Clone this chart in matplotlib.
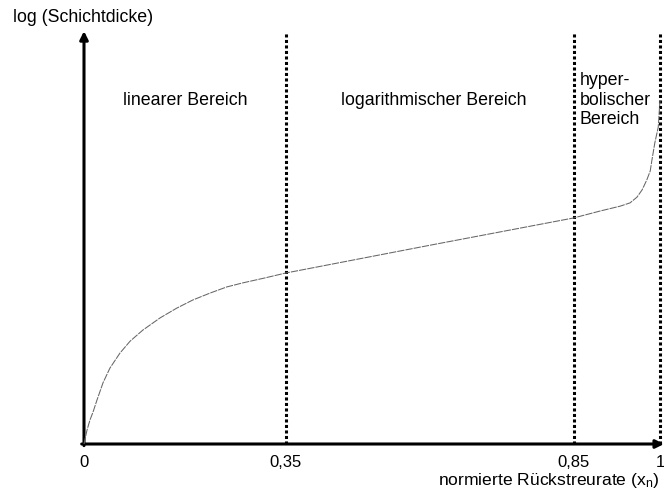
import numpy as np
import matplotlib
matplotlib.use('Agg')
import matplotlib.pyplot as plt

# 字体设置
plt.rcParams['font.family'] = ['Liberation Sans', 'DejaVu Sans']
plt.rcParams['mathtext.fontset'] = 'custom'
plt.rcParams['mathtext.rm'] = 'Liberation Sans'
plt.rcParams['mathtext.it'] = 'Liberation Sans'

# 数据（从图中读取，y 为归一化的 log(Schichtdicke)）
curve_x = [0.0, 0.0026, 0.0052, 0.0104, 0.0156, 0.0226, 0.033, 0.045, 0.0625,
           0.080, 0.102, 0.132, 0.161, 0.189, 0.219, 0.248, 0.276, 0.314, 0.35,
           0.60, 0.85, 0.896, 0.931, 0.948, 0.960, 0.969, 0.977, 0.983, 0.986,
           0.991, 0.997, 1.0]
curve_y = [0.0, 0.017, 0.034, 0.059, 0.078, 0.108, 0.150, 0.186, 0.223,
           0.252, 0.279, 0.309, 0.333, 0.353, 0.370, 0.385, 0.395, 0.407, 0.419,
           0.487, 0.554, 0.571, 0.583, 0.591, 0.605, 0.623, 0.647, 0.669, 0.696,
           0.738, 0.777, 0.843]
bounds = [0.35, 0.85, 1.0]
tick_pos = [0, 0.35, 0.85, 1]
tick_labels = ['0', '0,35', '0,85', '1']
regions = ['linearer Bereich', 'logarithmischer Bereich', 'hyper-\nbolischer\nBereich']

fig = plt.figure(figsize=(6.64, 4.92), dpi=100)
ax = fig.add_axes([84 / 664, 48 / 492, 576 / 664, 408 / 492])
ax.set_xlim(0, 1)
ax.set_ylim(0, 1)
for s in ax.spines.values():
    s.set_visible(False)

# 坐标轴箭头
ax.annotate('', xy=(0, 1.012), xytext=(0, -0.004),
            arrowprops=dict(arrowstyle='-|>', lw=2.2, color='black',
                            mutation_scale=12, shrinkA=0, shrinkB=0),
            annotation_clip=False)
ax.annotate('', xy=(1.007, 0), xytext=(-0.004, 0),
            arrowprops=dict(arrowstyle='-|>', lw=2.2, color='black',
                            mutation_scale=12, shrinkA=0, shrinkB=0),
            annotation_clip=False)

# 区域分隔线
for b in bounds:
    ax.plot([b, b], [0, 1.007], color='black', lw=2.2,
            linestyle=(0, (1, 0.8)), clip_on=False, zorder=2)

# 曲线
ax.plot(curve_x, curve_y, color='#666666', lw=0.75,
        linestyle=(0, (7, 1)), clip_on=False, zorder=3)

# 刻度
ax.set_xticks(tick_pos)
ax.set_xticklabels(tick_labels, fontsize=12)
ax.set_yticks([])
ax.tick_params(axis='x', length=0, pad=8)

# 区域文字
ax.text(0.175, 0.843, regions[0], ha='center', va='center', fontsize=12.8)
ax.text(0.607, 0.843, regions[1], ha='center', va='center', fontsize=12.8)
ax.text(0.861, 0.912, regions[2], ha='left', va='top', fontsize=12.8,
        linespacing=1.2)

# 轴标题
fig.text(13 / 664, 1 - 17 / 492, 'log (Schichtdicke)', ha='left', va='center',
         fontsize=12.8)
fig.text(659 / 664, 1 - 481 / 492, r'normierte Rückstreurate (x$_\mathrm{n}$)',
         ha='right', va='center', fontsize=12.6)

fig.savefig('out.png', dpi=100, facecolor='white')
